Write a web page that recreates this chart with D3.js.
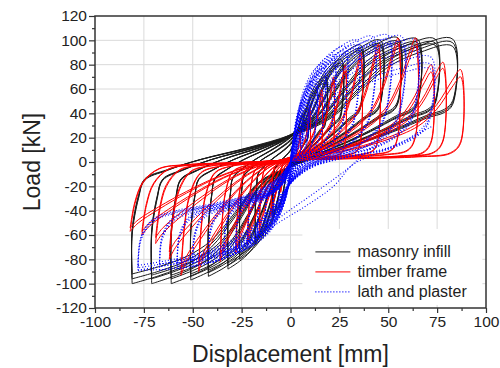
<!DOCTYPE html>
<html>
<head>
<meta charset="utf-8">
<script src="https://cdn.jsdelivr.net/npm/d3@7"></script>
<style>
    body { margin: 0; background: #fff; }
    text { font-family: Arial, "Liberation Sans", sans-serif; fill: #222; }
</style>
</head>
<body>
<div id="chart"></div>
<script>
// tick labels
const xTicks = [-100, -75, -50, -25, 0, 25, 50, 75, 100];
const yTicks = [-120, -100, -80, -60, -40, -20, 0, 20, 40, 60, 80, 100, 120];
const xMinor = [-87.5, -62.5, -37.5, -12.5, 12.5, 37.5, 62.5, 87.5];
const yMinor = [-110, -90, -70, -50, -30, -10, 10, 30, 50, 70, 90, 110];

// masonry infill: peak displacement per level, peak loads of the repeated cycles
const masonryDispPos = [9, 18, 26, 36, 46, 55, 65, 74, 83];
const masonryLoadPos = [[45, 43, 42], [70, 67, 65], [84, 81, 79], [96, 93, 91], [100, 97, 95],
    [102, 99, 97], [101, 98, 96], [101, 98, 96], [101, 98, 95]];
const masonryDispNeg = [-9, -18, -26, -32, -42, -51, -61, -71, -81];
const masonryLoadNeg = [[-45, -43, -42], [-68, -65, -63], [-80, -77, -75], [-88, -85, -83], [-94, -91, -89],
    [-97, -94, -92], [-100, -96, -93], [-100, -96, -93], [-100, -96, -92]];
// loop outline as fractions of the cycle peaks (from negative peak, round to positive peak and back)
const masonryLoop = [[-1, -1], [-1, -0.6], [-0.96, -0.3], [-0.92, -0.15], [-0.78, -0.07], [-0.57, 0.02],
    [-0.26, 0.12], [0, 0.22], [0.25, 0.38], [0.42, 0.6], [0.6, 0.82], [0.8, 0.95], [1, 1],
    [1, 0.5], [0.95, 0.43], [0.84, 0.38], [0.63, 0.26], [0.43, 0.16], [0.2, 0.06], [0, -0.04],
    [-0.2, -0.18], [-0.35, -0.45], [-0.5, -0.7], [-0.65, -0.84], [-0.82, -0.93], [-1, -1]];

// timber frame
const timberDispPos = [5, 10, 16, 22, 28, 36, 45, 55, 64, 72, 78, 87];
const timberLoadPos = [[25, 23], [45, 42], [60, 56], [70, 66], [80, 75], [90, 85], [97, 92],
    [102, 97], [102, 96], [80, 74], [82, 77], [76, 70]];
const timberDispNeg = [-5, -10, -16, -22, -28, -36, -47, -56, -62, -69, -76, -82];
const timberLoadNeg = [[-25, -23], [-45, -42], [-58, -55], [-68, -64], [-75, -71], [-82, -78], [-90, -85],
    [-93, -88], [-80, -74], [-67, -62], [-60, -57], [-57, -54]];
const timberLoop = [[-1, -1], [-0.95, -0.88], [-0.82, -0.68], [-0.65, -0.45], [-0.45, -0.22], [-0.25, -0.06],
    [0, 0.04], [0.3, 0.12], [0.55, 0.25], [0.75, 0.42], [0.86, 0.62], [0.95, 0.88], [1, 1],
    [1, 0.22], [0.94, 0.1], [0.75, 0.06], [0.4, 0.04], [0, 0.02], [-0.35, -0.01], [-0.65, -0.04],
    [-0.82, -0.1], [-0.92, -0.3], [-0.97, -0.6], [-1, -1]];

// lath and plaster
const lathDispPos = [3, 6, 9, 13, 17, 22, 28, 34, 42, 50, 57, 64, 72];
const lathLoadPos = [[20, 18, 17], [38, 35, 33], [55, 51, 49], [68, 64, 62], [81, 77, 74], [88, 84, 81],
    [95, 91, 88], [100, 96, 93], [103, 99, 96], [104, 100, 97], [103, 98, 95], [100, 94, 90], [86, 80, 76]];
const lathDispNeg = [-3, -6, -9, -13, -17, -22, -28, -34, -42, -50, -58, -67, -78];
const lathLoadNeg = [[-18, -16, -15], [-32, -30, -28], [-45, -42, -40], [-55, -52, -50], [-63, -60, -58],
    [-70, -67, -65], [-75, -72, -70], [-79, -76, -74], [-83, -80, -78], [-86, -83, -81], [-88, -85, -83],
    [-89, -86, -84], [-89, -87, -85]];
const lathLoop = [[-1, -1], [-0.98, -0.72], [-0.9, -0.55], [-0.75, -0.47], [-0.5, -0.4], [-0.25, -0.3],
    [-0.08, -0.15], [0, 0], [0.08, 0.2], [0.2, 0.45], [0.35, 0.68], [0.55, 0.85], [0.78, 0.96], [1, 1],
    [0.98, 0.42], [0.9, 0.28], [0.7, 0.14], [0.4, 0.05], [0.15, -0.05], [0, -0.2], [-0.1, -0.4],
    [-0.25, -0.62], [-0.45, -0.8], [-0.7, -0.92], [-1, -1]];
// the two last unloading branches, traced directly [mm, kN]
const lathWideA = [[72, 29], [58, 17], [44, 7], [34, 0], [24, -12], [10, -28], [-5, -45], [-18, -62],
    [-30, -76], [-50, -86], [-78, -89]];
const lathWideB = [[64, 43], [52, 25], [40, 10], [30, -5], [22, -20], [8, -36], [-8, -52], [-22, -70], [-40, -83]];

const legendNames = ["masonry infill", "timber frame", "lath and plaster"];

const margin = { top: 16, right: 14, bottom: 60, left: 95 };
const width = 500 - margin.left - margin.right,
    height = 368 - margin.top - margin.bottom;

const svg = d3.select("#chart").append("svg")
    .attr("width", 500)
    .attr("height", 368)
    .append("g")
    .attr("transform", "translate(" + margin.left + "," + margin.top + ")");

const x = d3.scaleLinear().domain([-100, 100]).range([0, width]);
const y = d3.scaleLinear().domain([-120, 120]).range([height, 0]);

// grid
svg.append("g").selectAll("line")
    .data(xTicks.slice(1, -1))
    .enter().append("line")
    .attr("x1", d => x(d)).attr("x2", d => x(d))
    .attr("y1", 0).attr("y2", height)
    .attr("stroke", "#dadada");

svg.append("g").selectAll("line")
    .data(yTicks.slice(1, -1))
    .enter().append("line")
    .attr("x1", 0).attr("x2", width)
    .attr("y1", d => y(d)).attr("y2", d => y(d))
    .attr("stroke", "#dadada");

svg.append("clipPath").attr("id", "plot-clip")
    .append("rect").attr("width", width).attr("height", height);

const line = d3.line()
    .x(d => x(d[0]))
    .y(d => y(d[1]))
    .curve(d3.curveCatmullRom.alpha(0.5));

function buildLoops(loop, dispPos, loadPos, dispNeg, loadNeg) {
    let loops = [];
    dispPos.forEach((dp, i) => {
        loadPos[i].forEach((fp, k) => {
            const dn = dispNeg[i], fn = loadNeg[i][k];
            loops.push(loop.map(([u, v]) => [u >= 0 ? u * dp : -u * dn, v >= 0 ? v * fp : -v * fn]));
        });
    });
    return loops;
}

const curves = svg.append("g").attr("clip-path", "url(#plot-clip)");

curves.selectAll(".masonry")
    .data(buildLoops(masonryLoop, masonryDispPos, masonryLoadPos, masonryDispNeg, masonryLoadNeg))
    .enter().append("path")
    .attr("class", "masonry")
    .attr("d", line)
    .attr("fill", "none")
    .attr("stroke", "#1a1a1a")
    .attr("stroke-width", 1);

curves.selectAll(".timber")
    .data(buildLoops(timberLoop, timberDispPos, timberLoadPos, timberDispNeg, timberLoadNeg))
    .enter().append("path")
    .attr("class", "timber")
    .attr("d", line)
    .attr("fill", "none")
    .attr("stroke", "#ff0000")
    .attr("stroke-width", 1);

curves.selectAll(".lath")
    .data(buildLoops(lathLoop, lathDispPos, lathLoadPos, lathDispNeg, lathLoadNeg).concat([lathWideA, lathWideB]))
    .enter().append("path")
    .attr("class", "lath")
    .attr("d", line)
    .attr("fill", "none")
    .attr("stroke", "#0000ff")
    .attr("stroke-width", 1.1)
    .attr("stroke-dasharray", "1,2");

// axes
const xAxis = d3.axisBottom(x).tickValues(xTicks).tickSize(5).tickPadding(3).tickFormat(d => String(d));
const yAxis = d3.axisLeft(y).tickValues(yTicks).tickSize(6).tickPadding(2).tickFormat(d => String(d));

const gx = svg.append("g")
    .attr("transform", "translate(0," + height + ")")
    .call(xAxis);
svg.append("g")
    .attr("transform", "translate(0," + height + ")")
    .call(d3.axisBottom(x).tickValues(xMinor).tickSize(3).tickFormat(""));

const gy = svg.append("g").call(yAxis);
svg.append("g")
    .call(d3.axisLeft(y).tickValues(yMinor).tickSize(3).tickFormat(""));

svg.selectAll(".domain").remove();
svg.selectAll(".tick line").attr("stroke", "#333").attr("stroke-width", 1.2);
gx.selectAll("text").style("font-size", "15.5px").attr("fill", "#222");
gy.selectAll("text").style("font-size", "15.5px").attr("fill", "#222");

svg.append("rect")
    .attr("width", width)
    .attr("height", height)
    .attr("fill", "none")
    .attr("stroke", "#333")
    .attr("stroke-width", 1.5);

svg.append("text")
    .attr("x", width / 2)
    .attr("y", height + 54)
    .attr("text-anchor", "middle")
    .style("font-size", "23px")
    .text("Displacement [mm]");

svg.append("text")
    .attr("transform", "translate(" + (-55) + "," + (height / 2) + ") rotate(-90)")
    .attr("text-anchor", "middle")
    .style("font-size", "23px")
    .text("Load [kN]");

// legend
const legend = svg.append("g")
    .attr("transform", "translate(" + (x(25) - 37) + "," + (y(-55)) + ")");

legend.append("rect")
    .attr("x", 0).attr("y", 0)
    .attr("width", 180).attr("height", 76)
    .attr("fill", "#fff");

const legendStyle = [
    { stroke: "#1a1a1a", dash: null, w: 1 },
    { stroke: "#ff0000", dash: null, w: 1 },
    { stroke: "#0000ff", dash: "1,2", w: 1.1 }
];

legendNames.forEach((name, i) => {
    const row = legend.append("g").attr("transform", "translate(0," + (23 + i * 20) + ")");
    row.append("line")
        .attr("x1", 13).attr("x2", 48)
        .attr("y1", 0).attr("y2", 0)
        .attr("stroke", legendStyle[i].stroke)
        .attr("stroke-width", legendStyle[i].w)
        .attr("stroke-dasharray", legendStyle[i].dash);
    row.append("text")
        .attr("x", 55)
        .attr("y", 5)
        .style("font-size", "16px")
        .text(name);
});
</script>
</body>
</html>
